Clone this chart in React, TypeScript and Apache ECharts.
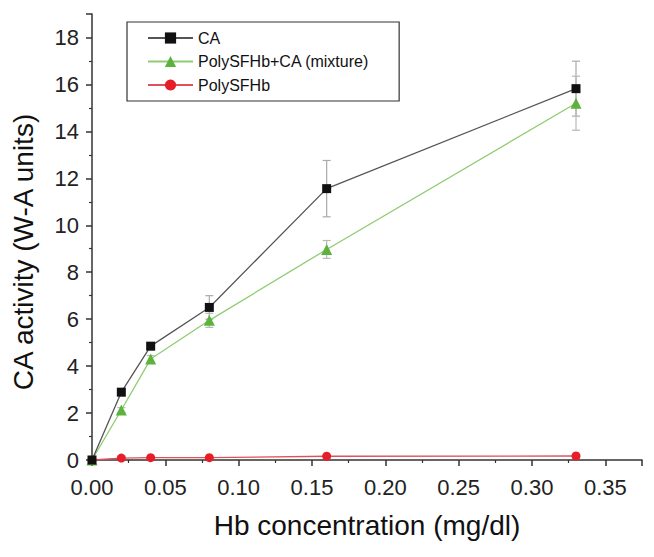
import React, { useEffect, useRef } from "react";
import * as echarts from "echarts";

const concentrations = [0, 0.02, 0.04, 0.08, 0.16, 0.33];
const caValues = [0, 2.89, 4.85, 6.5, 11.56, 15.82];
const caErrors = [0, 0.15, 0.15, 0.5, 1.2, 1.17];
const mixValues = [0, 2.13, 4.3, 5.95, 8.97, 15.2];
const mixErrors = [0, 0.1, 0.15, 0.3, 0.38, 1.15];
const polyValues = [0, 0.08, 0.1, 0.1, 0.16, 0.17];
const seriesNames = ["CA", "PolySFHb+CA (mixture)", "PolySFHb"];

const FONT = "'Liberation Sans', Arial, sans-serif";

function pairs(xs: number[], ys: number[]) {
  return xs.map((x, i) => [x, ys[i]]);
}
function errorData(xs: number[], ys: number[], es: number[]) {
  return xs
    .map((x, i) => [x, ys[i] - es[i], ys[i] + es[i]])
    .filter((_, i) => es[i] > 0);
}

function errorSeries(data: number[][], color: string) {
  return {
    type: "custom",
    silent: true,
    z: 1,
    data,
    encode: { x: 0, y: [1, 2] },
    renderItem: (params: any, api: any) => {
      const x = api.value(0);
      const lo = api.coord([x, api.value(1)]);
      const hi = api.coord([x, api.value(2)]);
      const w = 4;
      const style = { stroke: color, lineWidth: 1.2 };
      return {
        type: "group",
        children: [
          { type: "line", shape: { x1: lo[0], y1: lo[1], x2: hi[0], y2: hi[1] }, style },
          { type: "line", shape: { x1: lo[0] - w, y1: lo[1], x2: lo[0] + w, y2: lo[1] }, style },
          { type: "line", shape: { x1: hi[0] - w, y1: hi[1], x2: hi[0] + w, y2: hi[1] }, style },
        ],
      };
    },
  };
}

export default function App() {
  const ref = useRef<HTMLDivElement>(null);
  useEffect(() => {
    if (!ref.current) return;
    const chart = echarts.init(ref.current, undefined, { renderer: "svg" });
    const axisCommon = {
      axisLine: { show: true, lineStyle: { color: "#333", width: 1.5 } },
      axisTick: { show: true, inside: false, length: 6, lineStyle: { color: "#333", width: 1.5 } },
      minorTick: { show: true, splitNumber: 2, length: 3, lineStyle: { color: "#333", width: 1.2 } },
      splitLine: { show: false },
      minorSplitLine: { show: false },
    };
    chart.setOption({
      animation: false,
      backgroundColor: "#fff",
      grid: { left: 92, right: 12, top: 14, bottom: 97, containLabel: false },
      legend: {
        orient: "vertical",
        left: 127,
        top: 22,
        data: seriesNames,
        itemWidth: 45,
        itemHeight: 14,
        itemGap: 7.5,
        padding: [8, 30, 8, 20],
        borderColor: "#333",
        borderWidth: 1.2,
        textStyle: { fontFamily: FONT, fontSize: 16, color: "#111" },
      },
      xAxis: {
        type: "value",
        min: 0,
        max: 0.375,
        interval: 0.05,
        ...axisCommon,
        axisLabel: {
          fontFamily: FONT,
          fontSize: 22,
          color: "#222",
          margin: 16,
          formatter: (v: number) => (Math.abs(Math.round(v * 100) - v * 100) < 1e-6 && Math.round(v * 100) % 5 === 0 ? v.toFixed(2) : ""),
        },
        name: "Hb concentration (mg/dl)",
        nameLocation: "middle",
        nameGap: 51,
        nameTextStyle: { fontFamily: FONT, fontSize: 28, color: "#111", verticalAlign: "top" },
      },
      yAxis: {
        type: "value",
        min: 0,
        max: 19,
        interval: 2,
        ...axisCommon,
        axisLabel: {
          fontFamily: FONT,
          fontSize: 22,
          color: "#222",
          margin: 13,
          formatter: (v: number) => (v % 2 === 0 ? String(v) : ""),
        },
        name: "CA activity (W-A units)",
        nameLocation: "middle",
        nameGap: 55,
        nameTextStyle: { fontFamily: FONT, fontSize: 28, color: "#111", padding: [0, 30, 0, 0] },
      },
      series: [
        errorSeries(errorData(concentrations, caValues, caErrors), "#aaaaaa"),
        errorSeries(errorData(concentrations, mixValues, mixErrors), "#b8b8b8"),
        {
          name: seriesNames[0],
          type: "line",
          z: 4,
          data: pairs(concentrations, caValues),
          symbol: "rect",
          symbolSize: 9,
          itemStyle: { color: "#111" },
          lineStyle: { color: "#555", width: 1.3 },
        },
        {
          name: seriesNames[1],
          type: "line",
          z: 3,
          data: pairs(concentrations, mixValues),
          symbol: "triangle",
          symbolSize: 11,
          itemStyle: { color: "#5bb33e" },
          lineStyle: { color: "#8fcc72", width: 1.3 },
        },
        {
          name: seriesNames[2],
          type: "line",
          z: 2,
          data: pairs(concentrations, polyValues),
          symbol: "circle",
          symbolSize: 9,
          itemStyle: { color: "#e61e2a" },
          lineStyle: { color: "#e0505a", width: 1.3 },
        },
      ],
    });
    return () => chart.dispose();
  }, []);
  return <div ref={ref} style={{ width: 654, height: 557, margin: -8 }} />;
}
